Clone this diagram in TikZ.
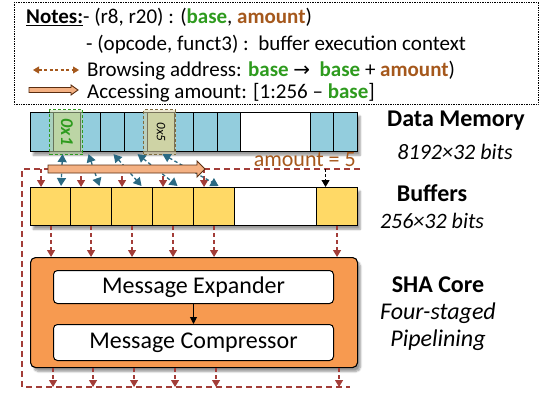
\documentclass[tikz,border=0pt]{standalone}
\usepackage{fontspec}
\setmainfont{Carlito}
\newfontfamily\symfont{DejaVu Sans}
\usetikzlibrary{arrows.meta,shadows,shadows.blur,calc}

\definecolor{memblue}{HTML}{93CDDD}
\definecolor{hlgreen}{HTML}{BCD5A5}
\definecolor{hltan}{HTML}{DDD3A6}
\definecolor{hlborder}{HTML}{7E6C3E}
\definecolor{bufyellow}{HTML}{FFD966}
\definecolor{coreorange}{HTML}{F79A50}
\definecolor{peach}{HTML}{F4B183}
\definecolor{peachedge}{HTML}{5A2E10}
\definecolor{darkred}{HTML}{A33D38}
\definecolor{arrowteal}{HTML}{2B6A83}
\definecolor{basegreen}{HTML}{2E9B1E}
\definecolor{amtbrown}{HTML}{A5581C}

\tikzset{
  cell/.style={draw=black, line width=1.1pt, inner sep=0pt, anchor=north west},
  memcell/.style={cell, fill=memblue, minimum height=39pt},
  bufcell/.style={cell, fill=bufyellow, minimum height=38pt, minimum width=41pt},
  rowshade/.style={inner sep=0pt, anchor=north west, fill=white,
    blur shadow={shadow xshift=3pt, shadow yshift=-4pt, shadow blur steps=6, shadow opacity=40}},
  fbline/.style={draw=darkred, line width=1.4pt, dash pattern=on 6pt off 4pt},
  redarr/.style={draw=darkred, line width=1.3pt, dash pattern=on 4pt off 3pt,
    -{Triangle[width=8pt,length=7pt]}},
  tealarr/.style={draw=arrowteal, line width=1.3pt, dash pattern=on 3.5pt off 2.5pt,
    {Triangle[width=9pt,length=8pt]}-{Triangle[width=9pt,length=8pt]}},
  stagebox/.style={draw=black, line width=1pt, fill=white, rounded corners=4pt,
    inner sep=0pt, minimum width=280pt, font=\fontsize{24}{24}\selectfont},
  notetext/.style={anchor=base west, inner sep=0pt, font=\fontsize{21}{25}\selectfont},
  sidehead/.style={inner sep=0pt, font=\fontsize{24}{24}\selectfont\bfseries},
  sidesub/.style={inner sep=0pt, font=\fontsize{22}{22}\selectfont\itshape},
  sidesubbig/.style={inner sep=0pt, font=\fontsize{24}{24}\selectfont\itshape},
}

\begin{document}
\begin{tikzpicture}[x=1pt, y=-1pt]
\useasboundingbox (0,0) rectangle (541,396);

% ---------- notes box ----------
\draw[densely dotted, line width=0.7pt] (14,2) rectangle (538,104);
\node[notetext] (note1) at (26,24) {\textbf{\underline{Notes:}}- (r8, r20) : (\textcolor{basegreen}{\textbf{base}}, \textcolor{amtbrown}{\textbf{amount}})};
\node[notetext] (note2) at (86,51) {- (opcode, funct3) :\ \ buffer execution context};
\node[notetext] (note3) at (87,77) {Browsing address: \textcolor{basegreen}{\textbf{base}} {\symfont\fontsize{20}{20}\selectfont →}\ \ \textcolor{basegreen}{\textbf{base}} + \textcolor{amtbrown}{\textbf{amount}})};
\node[notetext] (note4) at (87,99) {Accessing amount: [1:256 – \textcolor{basegreen}{\textbf{base}}]};

% legend symbols
\coordinate (lga) at (33,70);
\coordinate (lgb) at (79,70);
\draw[amtbrown, line width=1.1pt, dash pattern=on 3pt off 2.5pt,
  {Triangle[width=7pt,length=6pt]}-{Triangle[width=7pt,length=6pt]}] (lga) -- (lgb);
\draw[fill=peach, draw=peachedge, line width=0.9pt]
  (29,87.5) -- (71,87.5) -- (71,85) -- (78,90) -- (71,95) -- (71,92.5) -- (29,92.5) -- cycle;

% ---------- data memory ----------
\node[rowshade, minimum width=327pt, minimum height=39pt] (memrow) at (30,112) {};
\node[memcell, minimum width=23pt] (m0) at (30,112) {};
\node[memcell, minimum width=27pt, fill=hlgreen] (m1) at (53,112) {};
\node[memcell, minimum width=20pt] (m2) at (80,112) {};
\node[memcell, minimum width=24pt] (m3) at (100,112) {};
\node[memcell, minimum width=23pt] (m4) at (124,112) {};
\node[memcell, minimum width=27pt, fill=hlgreen] (m5) at (147,112) {};
\node[memcell, minimum width=19pt] (m6) at (174,112) {};
\node[memcell, minimum width=24pt] (m7) at (193,112) {};
\node[memcell, minimum width=23pt] (m8) at (217,112) {};
\node[memcell, minimum width=70pt, fill=white] (m9) at (240,112) {};
\node[memcell, minimum width=23pt] (m10) at (310,112) {};
\node[memcell, minimum width=24pt] (m11) at (333,112) {};

% highlighted words
\node[anchor=north west, inner sep=0pt, minimum width=33pt, minimum height=45pt,
  fill=hlgreen, fill opacity=0.55, draw=basegreen, draw opacity=1, line width=1.2pt,
  dash pattern=on 3pt off 2pt] (hl1) at (49,109) {};
\node[anchor=north west, inner sep=0pt, minimum width=32pt, minimum height=45pt,
  fill=hltan, fill opacity=0.55, draw=hlborder, draw opacity=1, line width=1.2pt,
  dash pattern=on 3pt off 2pt] (hl5) at (143,109) {};
\node[rotate=-90, text=basegreen, font=\fontsize{18}{18}\selectfont\bfseries\itshape] (w1) at (m1.center) {0x1};
\node[rotate=-90, font=\fontsize{13}{13}\selectfont\itshape] (w5) at (m5.center) {0x5};

% ---------- feedback path ----------
\coordinate (fbA) at (360,169);
\coordinate (fbB) at (22,169);
\coordinate (fbC) at (22,387);
\coordinate (fbD) at (350,387);
\draw[fbline] (fbA) -- (fbB) -- (fbC) -- (fbD);

% ---------- buffers ----------
\node[rowshade, minimum width=327pt, minimum height=38pt] (bufrow) at (30,187) {};
\node[bufcell] (b0) at (30,187) {};
\node[bufcell] (b1) at (70,187) {};
\node[bufcell] (b2) at (111,187) {};
\node[bufcell] (b3) at (152,187) {};
\node[bufcell] (b4) at (193,187) {};
\node[bufcell, minimum width=82pt, fill=white] (b5) at (234,187) {};
\node[bufcell] (b6) at (316,187) {};

% ---------- SHA core ----------
\node[anchor=north west, inner sep=0pt, minimum width=327pt, minimum height=110pt,
  fill=coreorange, draw=black, line width=1.1pt, rounded corners=5pt,
  blur shadow={shadow xshift=3pt, shadow yshift=-4pt, shadow blur steps=6, shadow opacity=40}]
  (core) at (30,257) {};
\node[stagebox, minimum height=33pt, anchor=north west] (exp) at (53,270) {Message Expander};
\node[stagebox, minimum height=36pt, anchor=north west] (comp) at (53,324) {Message Compressor};
\draw[line width=1pt, -{Triangle[width=7pt,length=7pt]}] (exp.south) -- (comp.north);

% writes from the feedback path into the buffers
\foreach \b in {b0,b1,b2,b3,b4}
  \draw[redarr] ($(\b.north)+(-10,-18)$) -- ($(\b.north)+(-10,0)$);
\draw[line width=1pt, dash pattern=on 3pt off 2pt, -{Triangle[width=8pt,length=7pt]}]
  ($(b6.north)+(-11.5,-18)$) -- ($(b6.north)+(-11.5,0)$);

% buffers feeding the core
\foreach \b in {b0,b1,b2,b3,b4,b6}
  \draw[redarr] (\b.south) -- (\b.south |- core.north);
% core results back onto the feedback path
\foreach \b in {b0,b1,b2,b3,b4,b6}
  \draw[redarr] ($(\b.south |- core.south)+(2,0)$) -- ($(\b.south |- fbC)+(2,0)$);

% browsing addresses between memory and buffers
\draw[tealarr] ($(m1.south)+(-4.5,2)$) -- ($(b0.north)+(10,-1)$);
\draw[tealarr] ($(m2.south)+(-2,2)$) -- ($(b1.north)+(8.5,-1)$);
\draw[tealarr] ($(m3.south)+(1,2)$) -- ($(b2.north)+(9.5,-1)$);
\draw[tealarr] ($(m4.south)+(1.5,2)$) -- ($(b3.north)+(4.5,-1)$);
\draw[tealarr] ($(m5.south)+(1.5,2)$) -- ($(b4.north)+(4.5,-1)$);

% accessing amount
\draw[fill=peach, draw=peachedge, line width=0.9pt]
  (48,165) -- (197,165) -- (197,161) -- (205,169) -- (197,177) -- (197,173) -- (48,173) -- cycle;
\node[anchor=base east, inner sep=0pt, text=amtbrown, font=\fontsize{22}{22}\selectfont] (amt) at (356,166) {amount = 5};

% ---------- side labels ----------
\node[sidehead] (dmh) at (456,121) {Data Memory};
\node[sidesub] (dms) at (455,152) {8192×32 bits};
\node[sidehead] (bfh) at (432,193) {Buffers};
\node[sidesub] (bfs) at (432,221) {256×32 bits};
\node[sidehead] (shh) at (438,285) {SHA Core};
\node[sidesubbig] (shs1) at (438,313) {Four-staged};
\node[sidesubbig] (shs2) at (438,340) {Pipelining};
\end{tikzpicture}
\end{document}
